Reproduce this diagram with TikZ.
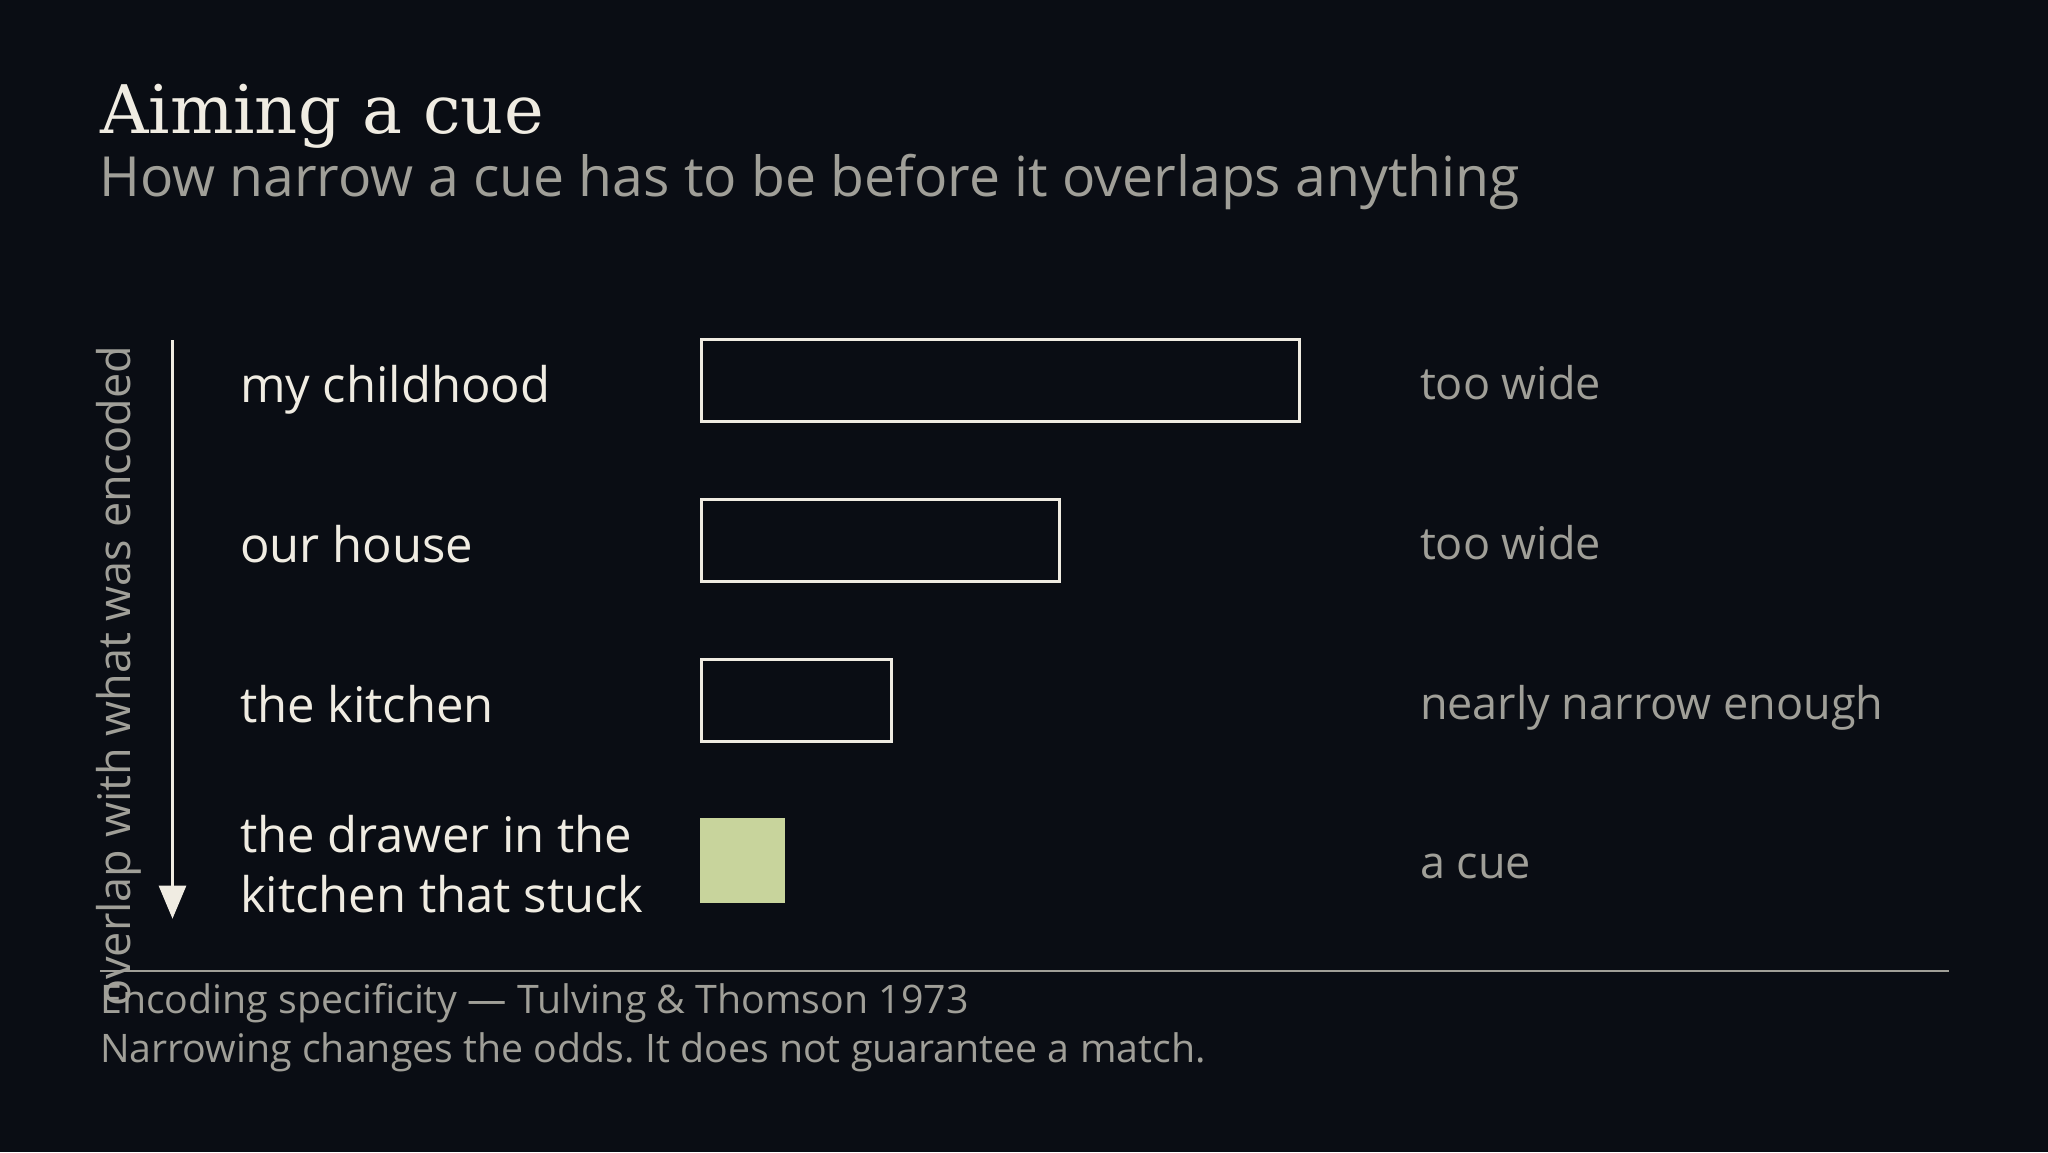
\documentclass[tikz,border=0pt]{standalone}
\usepackage{fontspec}
\setmainfont{Open Sans}
\newfontfamily\titlefont{DejaVu Serif}
\usepackage{xcolor}
\usepackage{tikz}
\usetikzlibrary{arrows.meta}
\usetikzlibrary{positioning}
\definecolor{bg}{HTML}{0A0D14}
\definecolor{cream}{HTML}{F0ECE2}
\definecolor{muted}{HTML}{A09F98}
\definecolor{cuegreen}{HTML}{C8D49C}
\frenchspacing

\begin{document}
\begin{tikzpicture}[x=1pt,y=-1pt]
  \tikzset{rowtext/.style = {anchor=base west,inner sep=0pt,outer sep=0pt,text=cream,align=left,font=\fontsize{49}{60}\selectfont}}
  \tikzset{note/.style = {anchor=base west,inner sep=0pt,outer sep=0pt,text=muted,font=\fontsize{45}{54}\selectfont}}
  \tikzset{cuebox/.style = {shape=rectangle,draw=cream,line width=3pt,anchor=west,minimum height=82pt,inner sep=0pt,outer sep=0pt}}

	\fill[bg] (0,0) rectangle (2048,1152);
	\useasboundingbox (0,0) rectangle (2048,1152);

	\node[anchor=base west,inner sep=0pt,text=cream,font=\titlefont\fontsize{67}{74}\selectfont] (title) at (100,133) {Aiming a cue};
	\node[anchor=base west,inner sep=0pt,text=muted,font=\fontsize{55.3}{64}\selectfont] (subtitle) at (99,196) {How narrow a cue has to be before it overlaps anything};

	\node[rowtext] (Lchild) at (240,402) {my childhood};
	\node[rowtext] (Lhouse) at (240,562) {our house};
	\node[rowtext] (Lkitchen) at (240,722) {the kitchen};
	\node[rowtext] (Ldrawer) at (240,912) {the drawer in the\\kitchen that stuck};

	\node[cuebox,minimum width=598pt] (Bchild) at (701.5,380.5) {};
	\node[cuebox,minimum width=358pt] (Bhouse) at (701.5,540.5) {};
	\node[cuebox,minimum width=190pt] (Bkitchen) at (701.5,700.5) {};
	\node[anchor=west,fill=cuegreen,minimum size=85pt,inner sep=0pt,outer sep=0pt] (Bdrawer) at (700,860.5) {};

	\node[note] (Nchild) at (1420,399) {too wide};
	\node[note] (Nhouse) at (1420,559) {too wide};
	\node[note] (Nkitchen) at (1420,719) {nearly narrow enough};
	\node[note] (Ndrawer) at (1420,878) {a cue};

	\coordinate (axtop) at (172.5,340);
	\coordinate (axend) at (172.5,918.7);
	\draw[cream,line width=2.7pt,-{Triangle[width=27pt,length=33pt]}] (axtop) -- (axend);
	\node[note,rotate=90] (axislabel) at (130,1006) {overlap with what was encoded};

	\coordinate (ruleL) at (100,971);
	\coordinate (ruleR) at (1949,971);
	\draw[muted,line width=2pt] (ruleL) -- (ruleR);

	\node[anchor=base west,inner sep=0pt,text=muted,font=\fontsize{39.3}{48}\selectfont] (source) at (100,1013) {Encoding specificity --- Tulving \& Thomson 1973};
	\node[anchor=base west,inner sep=0pt,text=muted,font=\fontsize{39.3}{48}\selectfont] (caveat) at (100,1062) {Narrowing changes the odds. It does not guarantee a match.};

\end{tikzpicture}
\end{document}
